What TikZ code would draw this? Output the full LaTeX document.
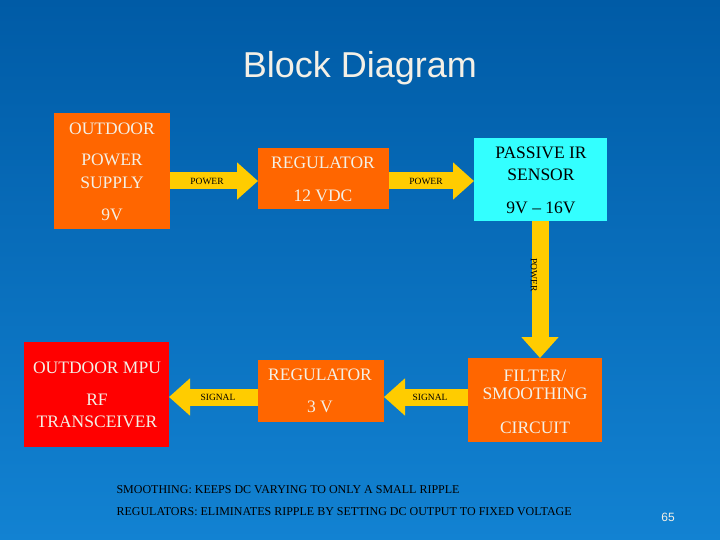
\documentclass[tikz,border=0pt]{standalone}
\usepackage{fontspec}
\setmainfont{Liberation Serif}
\newfontfamily\sans{Liberation Sans}
\usetikzlibrary{arrows.meta}
\definecolor{bgtop}{HTML}{005BA6}
\definecolor{bgbot}{HTML}{1282D2}
\definecolor{boxorange}{HTML}{FF6600}
\definecolor{boxred}{HTML}{FF0000}
\definecolor{boxcyan}{HTML}{33FFFF}
\definecolor{arrowyel}{HTML}{FFCC00}
\definecolor{lighttext}{HTML}{F4F0E6}
\tikzset{
  blk/.style={font=\fontsize{17.5}{17.5}\selectfont, text=lighttext},
  arr/.style={draw=arrowyel, line width=17pt,
    -{Triangle[length=21pt 0 0, width=36pt 0 0, fill=arrowyel]}},
  alab/.style={font=\fontsize{9.5}{9.5}\selectfont, text=black},
  note/.style={anchor=west, font=\fontsize{12}{12}\selectfont, text=black},
}
\begin{document}
\begin{tikzpicture}[x=1pt,y=-1pt]
\useasboundingbox (0,0) rectangle (720,540);
\shade[top color=bgtop, bottom color=bgbot] (0,0) rectangle (720,540);

\node[font=\sans\fontsize{36}{36}\selectfont, text=lighttext] (title) at (360,68) {Block Diagram};

% boxes
\fill[boxorange] (54,113) rectangle (170,229);
\fill[boxorange] (258,148) rectangle (389,209);
\fill[boxcyan] (474,138) rectangle (607,221);
\fill[boxred] (24,342) rectangle (169,447);
\fill[boxorange] (258,360) rectangle (384,422);
\fill[boxorange] (468,358) rectangle (602,442);

% box anchors
\coordinate (ps) at (170,181);
\coordinate (reg) at (258,181);
\coordinate (regr) at (389,181);
\coordinate (pir) at (474,181);
\coordinate (pirb) at (540,221);
\coordinate (filt) at (540,358);
\coordinate (filtl) at (468,397);
\coordinate (reg3r) at (384,397);
\coordinate (reg3l) at (258,397);
\coordinate (mpu) at (169,397);

% connectors
\draw[arr] (ps) -- (reg);
\draw[arr] (regr) -- (pir);
\draw[arr] (pirb) -- (filt);
\draw[arr] (filtl) -- (reg3r);
\draw[arr] (reg3l) -- (mpu);

\node[alab] (l1) at (207,181) {POWER};
\node[alab] (l2) at (426,181) {POWER};
\node[alab, rotate=-90] (l3) at (534,275) {POWER};
\node[alab] (l4) at (218,397) {SIGNAL};
\node[alab] (l5) at (430,397) {SIGNAL};

% box texts
\node[blk] (t1) at (112,129) {OUTDOOR};
\node[blk] (t2) at (112,160) {POWER};
\node[blk] (t3) at (112,183) {SUPPLY};
\node[blk] (t4) at (112,215) {9V};
\node[blk] (t5) at (323,163) {REGULATOR};
\node[blk] (t6) at (323,196) {12 VDC};
\node[blk, text=black] (t7) at (541,153) {PASSIVE IR};
\node[blk, text=black] (t8) at (541,175) {SENSOR};
\node[blk, text=black] (t9) at (541,208) {9V -- 16V};
\node[blk] (t10) at (97,368) {OUTDOOR MPU};
\node[blk] (t11) at (97,400) {RF};
\node[blk] (t12) at (97,422) {TRANSCEIVER};
\node[blk] (t13) at (320,375) {REGULATOR};
\node[blk] (t14) at (320,407) {3 V};
\node[blk] (t15) at (535,376) {FILTER/};
\node[blk] (t16) at (535,394) {SMOOTHING};
\node[blk] (t17) at (535,428) {CIRCUIT};

% notes
\node[note] (n1) at (113,490) {SMOOTHING: KEEPS DC VARYING TO ONLY A SMALL RIPPLE};
\node[note] (n2) at (113,512) {REGULATORS: ELIMINATES RIPPLE BY SETTING DC OUTPUT TO FIXED VOLTAGE};
\node[font=\sans\fontsize{12}{12}\selectfont, text=lighttext] (pg) at (668,517) {65};
\end{tikzpicture}
\end{document}
